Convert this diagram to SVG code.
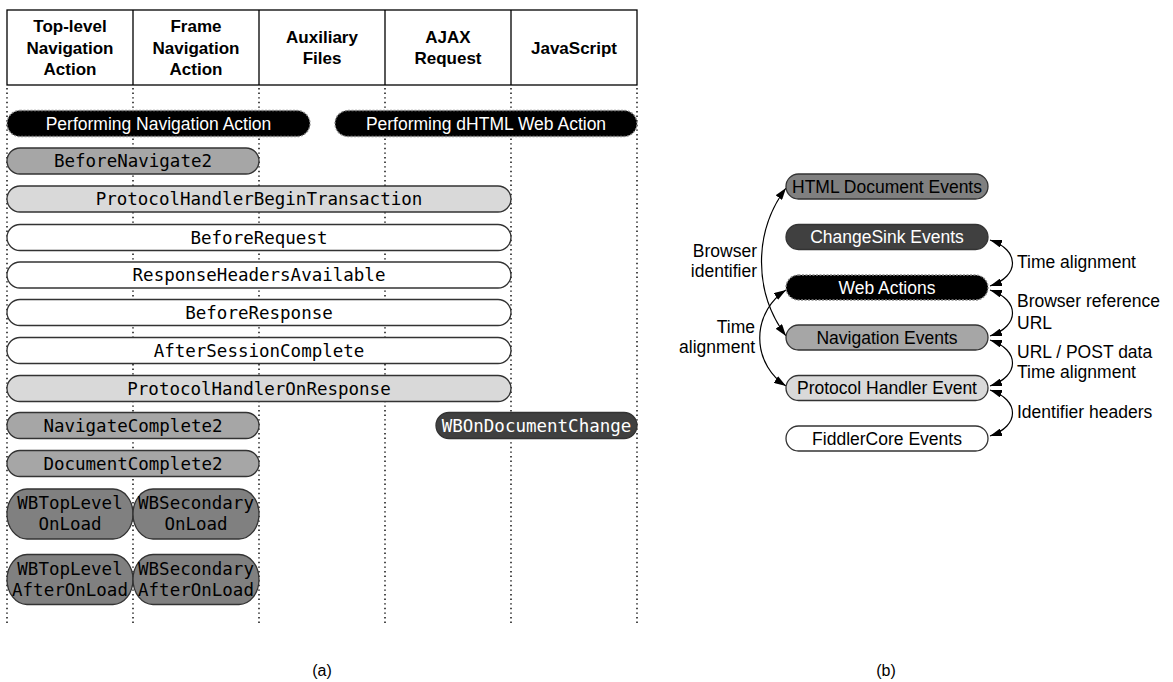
<svg xmlns="http://www.w3.org/2000/svg" width="1173" height="682" viewBox="0 0 1173 682">
  <defs>
    <style>
      .hdr{font-family:"Liberation Sans",Arial,sans-serif;font-size:17px;font-weight:bold;text-anchor:middle;fill:#000}
      .sans{font-family:"Liberation Sans",Arial,sans-serif;font-size:17.5px;fill:#000}
      .mid{text-anchor:middle}
      .end{text-anchor:end}
      .mono{font-family:"DejaVu Sans Mono",monospace;font-size:17.5px;text-anchor:middle;fill:#000}
      .wt{fill:#fff}
      .pill{stroke:#333;stroke-width:1.3}
      .dash{stroke:#888;stroke-width:1.3;stroke-dasharray:2 1.5}
      .lane{stroke:#000;stroke-width:1.4;stroke-dasharray:1.4 3.2}
      .conn{fill:none;stroke:#000;stroke-width:1.2;marker-start:url(#ah);marker-end:url(#ah)}
      .k{fill:#000}.d{fill:#404040}.m{fill:#808080}.g{fill:#a6a6a6}.l{fill:#d9d9d9}.w{fill:#fff}
    </style>
    <marker id="ah" viewBox="0 0 10 10" refX="10" refY="5" markerWidth="12" markerHeight="8" markerUnits="userSpaceOnUse" orient="auto-start-reverse" preserveAspectRatio="none">
      <path d="M0,0 L10,5 L0,10 z" fill="#000"/>
    </marker>
  </defs>
  <rect width="1173" height="682" fill="#fff"/>

  <!-- (a) timeline of events per action type -->
  <g id="header">
    <rect x="7" y="10" width="630" height="75" fill="#fff" stroke="#000" stroke-width="1.3"/>
    <path d="M133 10V85M259 10V85M385 10V85M511 10V85" stroke="#000" stroke-width="1.3"/>
    <text class="hdr" x="70" y="32">Top-level</text>
    <text class="hdr" x="70" y="53.5">Navigation</text>
    <text class="hdr" x="70" y="75">Action</text>
    <text class="hdr" x="196" y="32">Frame</text>
    <text class="hdr" x="196" y="53.5">Navigation</text>
    <text class="hdr" x="196" y="75">Action</text>
    <text class="hdr" x="322" y="42.5">Auxiliary</text>
    <text class="hdr" x="322" y="64">Files</text>
    <text class="hdr" x="448" y="42.5">AJAX</text>
    <text class="hdr" x="448" y="64">Request</text>
    <text class="hdr" x="574" y="53.5">JavaScript</text>
  </g>

  <g id="lanes">
    <path class="lane" d="M7 88V624M133 88V624M259 88V624M385 88V624M511 88V624M637 88V624"/>
  </g>

  <g id="perform-nav">
    <rect class="k dash" x="7" y="110.5" width="303" height="26" rx="13" ry="13"/>
    <text class="sans mid wt" x="158.5" y="129.8">Performing Navigation Action</text>
  </g>
  <g id="perform-dhtml">
    <rect class="k dash" x="335" y="110.5" width="302" height="26" rx="13" ry="13"/>
    <text class="sans mid wt" x="486" y="129.8">Performing dHTML Web Action</text>
  </g>

  <g id="before-navigate">
    <rect class="g pill" x="7" y="148" width="252" height="26" rx="13" ry="13"/>
    <text class="mono" x="133" y="167.4">BeforeNavigate2</text>
  </g>
  <g id="ph-begin">
    <rect class="l pill" x="7" y="186" width="504" height="26" rx="13" ry="13"/>
    <text class="mono" x="259" y="205.4">ProtocolHandlerBeginTransaction</text>
  </g>
  <g id="before-request">
    <rect class="w pill" x="7" y="224.5" width="504" height="26" rx="13" ry="13"/>
    <text class="mono" x="259" y="243.9">BeforeRequest</text>
  </g>
  <g id="headers-available">
    <rect class="w pill" x="7" y="262" width="504" height="26" rx="13" ry="13"/>
    <text class="mono" x="259" y="281.4">ResponseHeadersAvailable</text>
  </g>
  <g id="before-response">
    <rect class="w pill" x="7" y="299.5" width="504" height="26" rx="13" ry="13"/>
    <text class="mono" x="259" y="318.9">BeforeResponse</text>
  </g>
  <g id="after-session">
    <rect class="w pill" x="7" y="337.5" width="504" height="26" rx="13" ry="13"/>
    <text class="mono" x="259" y="356.9">AfterSessionComplete</text>
  </g>
  <g id="ph-response">
    <rect class="l pill" x="7" y="375.5" width="504" height="26" rx="13" ry="13"/>
    <text class="mono" x="259" y="394.9">ProtocolHandlerOnResponse</text>
  </g>
  <g id="navigate-complete">
    <rect class="g pill" x="7" y="412.5" width="252" height="26" rx="13" ry="13"/>
    <text class="mono" x="133" y="431.9">NavigateComplete2</text>
  </g>
  <g id="document-change">
    <rect class="d pill" x="436" y="412.5" width="201" height="26" rx="13" ry="13"/>
    <text class="mono wt" x="536.5" y="431.9">WBOnDocumentChange</text>
  </g>
  <g id="document-complete">
    <rect class="g pill" x="7" y="450.5" width="252" height="26" rx="13" ry="13"/>
    <text class="mono" x="133" y="469.9">DocumentComplete2</text>
  </g>
  <g id="top-onload">
    <rect class="m pill" x="7" y="489" width="126" height="50" rx="20" ry="25"/>
    <text class="mono" x="70" y="509">WBTopLevel</text>
    <text class="mono" x="70" y="530">OnLoad</text>
  </g>
  <g id="secondary-onload">
    <rect class="m pill" x="133" y="489" width="126" height="50" rx="20" ry="25"/>
    <text class="mono" x="196" y="509">WBSecondary</text>
    <text class="mono" x="196" y="530">OnLoad</text>
  </g>
  <g id="top-afteronload">
    <rect class="m pill" x="7" y="554.5" width="126" height="50" rx="20" ry="25"/>
    <text class="mono" x="70" y="574.5">WBTopLevel</text>
    <text class="mono" x="70" y="595.5">AfterOnLoad</text>
  </g>
  <g id="secondary-afteronload">
    <rect class="m pill" x="133" y="554.5" width="126" height="50" rx="20" ry="25"/>
    <text class="mono" x="196" y="574.5">WBSecondary</text>
    <text class="mono" x="196" y="595.5">AfterOnLoad</text>
  </g>

  <text id="caption-a" class="sans mid" x="322" y="676" style="font-size:16px">(a)</text>

  <!-- (b) relations between event sources -->
  <g id="connectors">
    <path class="conn" d="M786 336 A124 124 0 0 1 786 188"/>
    <path class="conn" d="M786 290 A57 57 0 0 0 786 386"/>
    <path class="conn" d="M990 240 C1020 250 1020 276 990 286"/>
    <path class="conn" d="M990 290 C1020 300 1020 326 990 336"/>
    <path class="conn" d="M990 340 C1020 350 1020 376 990 386"/>
    <path class="conn" d="M990 390 C1020 400 1020 426 990 436"/>
    <text class="sans end" x="757" y="257">Browser</text>
    <text class="sans end" x="757" y="277">identifier</text>
    <text class="sans end" x="755" y="333">Time</text>
    <text class="sans end" x="755" y="353">alignment</text>
    <text class="sans" x="1017" y="268">Time alignment</text>
    <text class="sans" x="1017" y="307">Browser reference</text>
    <text class="sans" x="1017" y="329">URL</text>
    <text class="sans" x="1017" y="358">URL / POST data</text>
    <text class="sans" x="1017" y="378">Time alignment</text>
    <text class="sans" x="1017" y="418">Identifier headers</text>
  </g>

  <g id="html-doc-events">
    <rect class="m pill" x="786" y="174" width="202" height="25" rx="12.5" ry="12.5"/>
    <text class="sans mid" x="887" y="192.8">HTML Document Events</text>
  </g>
  <g id="changesink-events">
    <rect class="d pill" x="786" y="224.5" width="202" height="25" rx="12.5" ry="12.5"/>
    <text class="sans mid wt" x="887" y="243.3">ChangeSink Events</text>
  </g>
  <g id="web-actions">
    <rect class="k dash" x="786" y="275" width="202" height="25" rx="12.5" ry="12.5"/>
    <text class="sans mid wt" x="887" y="293.8">Web Actions</text>
  </g>
  <g id="navigation-events">
    <rect class="g pill" x="786" y="325" width="202" height="25" rx="12.5" ry="12.5"/>
    <text class="sans mid" x="887" y="343.8">Navigation Events</text>
  </g>
  <g id="protocol-handler-event">
    <rect class="l pill" x="786" y="375.5" width="202" height="25" rx="12.5" ry="12.5"/>
    <text class="sans mid" x="887" y="394.3">Protocol Handler Event</text>
  </g>
  <g id="fiddlercore-events">
    <rect class="w pill" x="786" y="426" width="202" height="25" rx="12.5" ry="12.5"/>
    <text class="sans mid" x="887" y="444.8">FiddlerCore Events</text>
  </g>

  <text id="caption-b" class="sans mid" x="886" y="676" style="font-size:16px">(b)</text>
</svg>
